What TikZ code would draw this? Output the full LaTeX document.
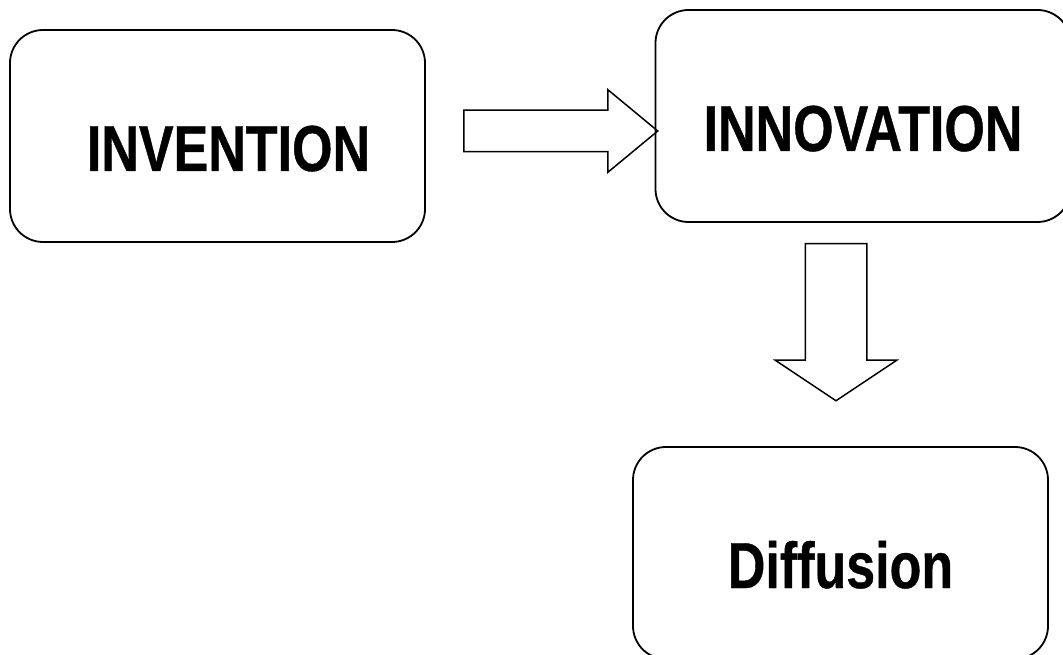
\documentclass[tikz,border=0pt]{standalone}
\usepackage{fontspec}
\setmainfont{Liberation Sans}[FakeStretch=0.8,BoldFeatures={FakeBold=0.6}]
\usepackage{tikz}
\usetikzlibrary{shapes.arrows}
\tikzset{
  stagebox/.style={draw,line width=1.8pt,rounded corners=33pt,inner sep=0pt,
    minimum width=415pt,minimum height=212pt,text height=70pt,text depth=0pt,
    font=\fontsize{65}{78}\selectfont\bfseries},
  blockarrow/.style={draw,line width=1.5pt,single arrow,anchor=tail,
    single arrow head indent=0pt}
}

\begin{document}
\begin{tikzpicture}[x=1pt,y=-1pt]
  \useasboundingbox (0,0) rectangle (1063,655);
  % stages
  \node[stagebox] (invention) at (217.5,136) {\hspace*{22pt}INVENTION};
  \node[stagebox] (innovation) at (863,116) {INNOVATION};
  \node[stagebox] (diffusion) at (840.5,553) {Diffusion};
  % block arrows
  \node[blockarrow,inner sep=20pt,minimum height=194pt,minimum width=81pt,
    single arrow head extend=20.5pt,single arrow tip angle=79.2] (toinnov) at (463,131) {};
  \node[blockarrow,inner sep=30pt,shape border rotate=270,minimum height=157pt,minimum width=120pt,
    single arrow head extend=30pt,single arrow tip angle=112.6] (todiff) at (836,243) {};
\end{tikzpicture}
\end{document}
